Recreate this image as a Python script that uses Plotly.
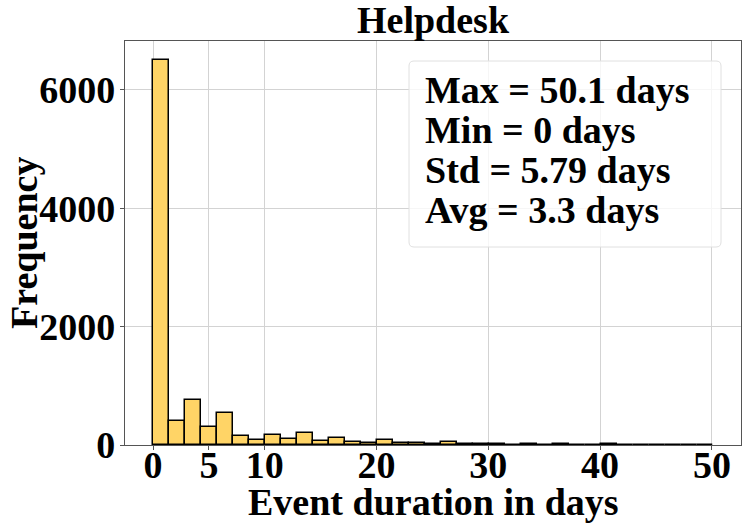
import numpy as np
import plotly.graph_objects as go

# Histogram of event durations (35 equal bins from 0 to 50.1 days)
bin_min = 0.0
bin_max = 50.1
n_bins = 35
counts = [6500, 410, 764, 298, 539, 157, 84, 168, 96, 208,
          67, 120, 50, 36, 92, 34, 42, 14, 50, 17,
          15, 10, 5, 14, 8, 14, 4, 4, 10, 8,
          6, 2, 1, 0, 1]
stats_lines = ["Max = 50.1 days", "Min = 0 days", "Std = 5.79 days", "Avg = 3.3 days"]
x_ticks = [0, 5, 10, 20, 30, 40, 50]
y_ticks = [0, 2000, 4000, 6000]

edges = np.linspace(bin_min, bin_max, n_bins + 1)
centers = (edges[:-1] + edges[1:]) / 2
width = edges[1] - edges[0]

big = dict(family="Liberation Serif", size=38, color="black", weight="bold")

# plot area in pixels
L, R, T, B = 125, 741, 41, 445
W, H = R - L, B - T


def px(x):
    return (x - L) / W


def py(y):
    return (B - y) / H


fig = go.Figure()
fig.add_trace(go.Bar(
    x=centers, y=counts, width=width,
    marker=dict(color="#FFD466", line=dict(color="black", width=1.5)),
    showlegend=False,
))

pad = (bin_max - bin_min) * 0.05
axis_style = dict(
    tickfont=big, showgrid=True, gridcolor="#d3d3d3", gridwidth=1, zeroline=False,
    showline=True, linecolor="#555555", linewidth=1.2, mirror=True,
    ticks="outside", ticklen=4, tickcolor="#555555", automargin=False,
)
fig.update_xaxes(range=[bin_min - pad, bin_max + pad], tickvals=x_ticks,
                 ticklabelstandoff=-18, **axis_style)
fig.update_yaxes(range=[0, max(counts) * 1.05], tickvals=y_ticks,
                 ticklabelstandoff=-3, **axis_style)

# titles as annotations
fig.add_annotation(xref="paper", yref="paper", x=0.5, y=py(20), text="Helpdesk",
                   showarrow=False, font=big, xanchor="center", yanchor="middle")
fig.add_annotation(xref="paper", yref="paper", x=0.5, y=py(502), text="Event duration in days",
                   showarrow=False, font=big, xanchor="center", yanchor="middle")
fig.add_annotation(xref="paper", yref="paper", x=px(24), y=0.5, text="Frequency", textangle=-90,
                   showarrow=False, font=big, xanchor="center", yanchor="middle")

# stats box with rounded corners
x0, x1, y0, y1 = px(409), px(721), py(247), py(61)
rx, ry = 5 / W, 5 / H
path = (f"M {x0+rx},{y0} L {x1-rx},{y0} Q {x1},{y0} {x1},{y0+ry} "
        f"L {x1},{y1-ry} Q {x1},{y1} {x1-rx},{y1} L {x0+rx},{y1} "
        f"Q {x0},{y1} {x0},{y1-ry} L {x0},{y0+ry} Q {x0},{y0} {x0+rx},{y0} Z")
fig.add_shape(type="path", path=path, xref="paper", yref="paper",
              line=dict(color="#e0e0e0", width=1),
              fillcolor="rgba(255,255,255,0.8)", layer="above")
for i, line in enumerate(stats_lines):
    fig.add_annotation(xref="paper", yref="paper", x=px(423), y=py(90 + 40 * i),
                       xanchor="left", yanchor="middle", text=line,
                       showarrow=False, font=big)

fig.update_layout(
    width=747, height=528,
    margin=dict(l=L, r=747 - R, t=T, b=528 - B),
    paper_bgcolor="white", plot_bgcolor="white",
    bargap=0,
)

# drop the default page margin so the figure sits at the window origin
fig.write_html("out.html", config={"displayModeBar": False},
               post_script="document.body.style.margin='0';document.body.style.overflow='hidden';")
